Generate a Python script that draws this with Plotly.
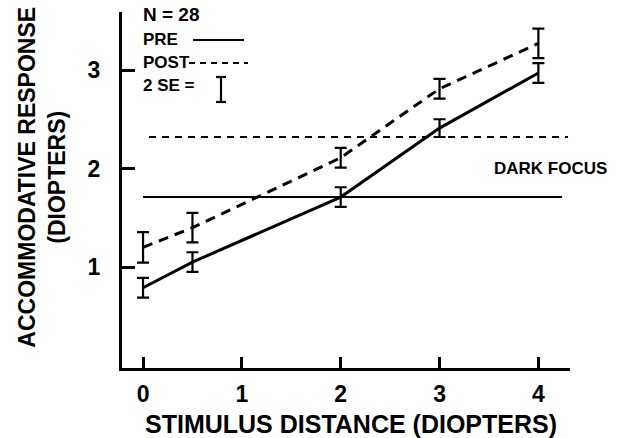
import plotly.graph_objects as go

# ---- data ----
stimulus = [0, 0.5, 2, 3, 4]
pre_resp = [0.79, 1.05, 1.71, 2.41, 2.97]
pre_2se = [0.10, 0.10, 0.10, 0.09, 0.10]
post_resp = [1.20, 1.40, 2.11, 2.81, 3.27]
post_2se = [0.155, 0.15, 0.10, 0.10, 0.15]

dark_focus_pre = 1.71
dark_focus_pre_x = [0, 4.24]
dark_focus_post = 2.32
dark_focus_post_x = [0.06, 4.30]

x_ticks = [0, 1, 2, 3, 4]
y_ticks = [1, 2, 3]

FONT = "Liberation Sans, Arial, Helvetica, sans-serif"

fig = go.Figure()

# dark focus lines
fig.add_trace(go.Scatter(x=dark_focus_pre_x, y=[dark_focus_pre] * 2, mode="lines",
                         line=dict(color="black", width=2), hoverinfo="skip"))
fig.add_trace(go.Scatter(x=dark_focus_post_x, y=[dark_focus_post] * 2, mode="lines",
                         line=dict(color="black", width=2, dash="7px,6px"), hoverinfo="skip"))

# data lines
fig.add_trace(go.Scatter(x=stimulus, y=pre_resp, mode="lines",
                         line=dict(color="black", width=3),
                         error_y=dict(type="data", array=pre_2se, color="black",
                                      thickness=2.2, width=6)))
fig.add_trace(go.Scatter(x=stimulus, y=post_resp, mode="lines",
                         line=dict(color="black", width=3, dash="10px,7px"),
                         error_y=dict(type="data", array=post_2se, color="black",
                                      thickness=2.2, width=6)))

bold = dict(family=FONT, color="black", weight="bold")

fig.update_layout(
    width=619, height=438,
    margin=dict(l=122, r=49, t=12, b=70),
    paper_bgcolor="white", plot_bgcolor="white",
    showlegend=False,
    font=dict(family=FONT, color="black"),
)
fig.update_xaxes(range=[-0.213, 4.32], tickvals=x_ticks, ticks="inside", ticklen=11,
                 tickwidth=2.5, tickcolor="black", showline=True, linewidth=3,
                 linecolor="black", showgrid=False, zeroline=False,
                 tickfont=dict(size=23, **bold), ticklabelstandoff=3)
fig.update_yaxes(range=[-0.025, 3.589], tickvals=y_ticks, ticks="inside", ticklen=13,
                 tickwidth=2.5, tickcolor="black", showline=True, linewidth=3,
                 linecolor="black", showgrid=False, zeroline=False,
                 tickfont=dict(size=23, **bold), ticklabelstandoff=14)

# axis titles
fig.add_annotation(xref="paper", yref="paper", x=(351 - 122) / 448, y=(368 - 424) / 356,
                   showarrow=False, text="STIMULUS DISTANCE (DIOPTERS)",
                   xanchor="center", yanchor="middle", font=dict(size=25, **bold))
fig.add_annotation(xref="paper", yref="paper", x=-0.179, y=0.537, showarrow=False,
                   text="ACCOMMODATIVE RESPONSE<br>(DIOPTERS)", textangle=-90,
                   xanchor="center", yanchor="middle", font=dict(size=23, **bold))

# dark focus label
fig.add_annotation(xref="paper", yref="paper", x=(492 - 122) / 448, y=(368 - 168) / 356,
                   showarrow=False, text="DARK FOCUS", xanchor="left", yanchor="middle",
                   font=dict(size=17, **bold))

# legend block
def py(p):
    return (368 - p) / 356

def px(p):
    return (p - 122) / 448

legend_rows = [("N = 28", 15, 19), ("PRE", 40, 17), ("POST", 62, 17),
               ("2 SE =", 85, 17)]
for txt, ypix, fs in legend_rows:
    fig.add_annotation(xref="paper", yref="paper", x=px(141), y=py(ypix), showarrow=False,
                       text=txt, xanchor="left", yanchor="middle",
                       font=dict(size=fs, **bold))
fig.add_shape(type="line", xref="paper", yref="paper", x0=px(193), x1=px(244),
              y0=py(40), y1=py(40), line=dict(color="black", width=2))
fig.add_shape(type="line", xref="paper", yref="paper", x0=px(189), x1=px(248),
              y0=py(63), y1=py(63), line=dict(color="black", width=2, dash="6px,5px"))
# 2 SE symbol
fig.add_shape(type="line", xref="paper", yref="paper", x0=px(221), x1=px(221),
              y0=py(77), y1=py(102), line=dict(color="black", width=2.2))
for yy in (77, 102):
    fig.add_shape(type="line", xref="paper", yref="paper", x0=px(216), x1=px(226),
                  y0=py(yy), y1=py(yy), line=dict(color="black", width=2.2))

fig.write_html("out.html", config={"displayModeBar": False},
               post_script="document.body.style.margin='0px';")
